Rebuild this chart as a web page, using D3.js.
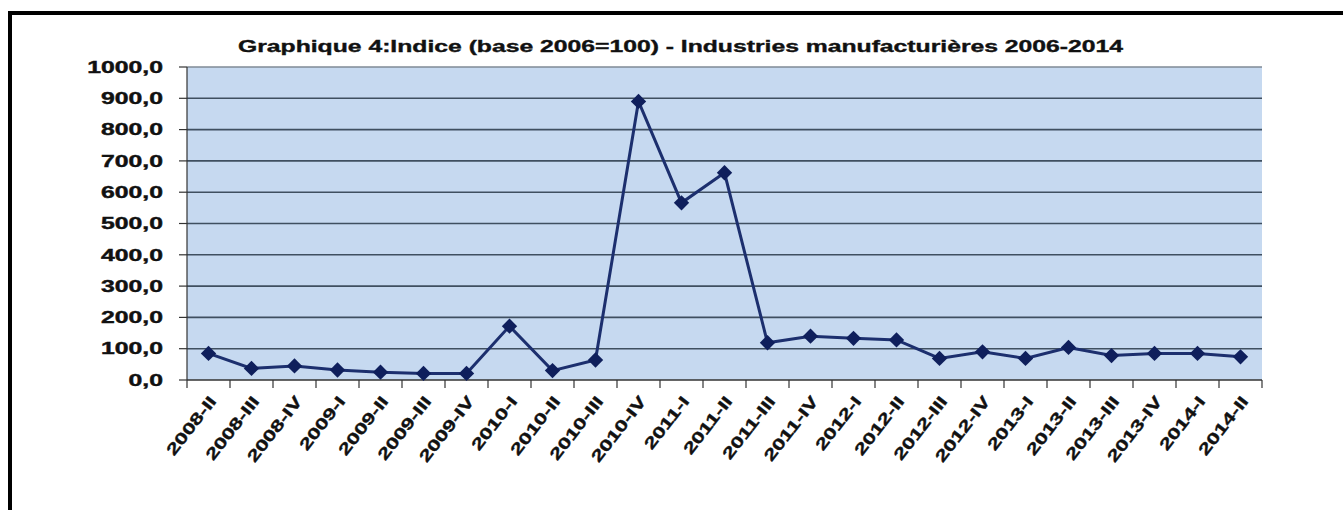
<!DOCTYPE html>
<html><head><meta charset="utf-8">
<script src="https://cdn.jsdelivr.net/npm/d3@7"></script>
<style>body{margin:0;background:#fff}svg{display:block}</style>
</head><body>
<svg id="c" width="1343" height="510"></svg>
<script>
const categories = ["2008-II","2008-III","2008-IV","2009-I","2009-II","2009-III","2009-IV",
"2010-I","2010-II","2010-III","2010-IV","2011-I","2011-II","2011-III","2011-IV",
"2012-I","2012-II","2012-III","2012-IV","2013-I","2013-II","2013-III","2013-IV","2014-I","2014-II"];
const values = [85,37,45,32,25,21,21,172,30,64,890,566,662,119,140,133,128,69,90,69,104,78,85,85,74];
const yTicks = [0,100,200,300,400,500,600,700,800,900,1000];
const title = "Graphique 4:Indice (base 2006=100) - Industries manufacturières 2006-2014";

const svg = d3.select("#c");
const FONT = "'Liberation Sans', Arial, sans-serif";
const L = 187, R = 1262, T = 67, B = 380;

// outer frame
svg.append("path").attr("d", `M10,512 L10,13 L1345,13`).attr("fill","none")
  .attr("stroke","#000").attr("stroke-width",4);

const x = d3.scaleBand().domain(categories).range([L, R]).padding(0);
const y = d3.scaleLinear().domain([0, 1000]).range([B, T]);

svg.append("rect").attr("x", L).attr("y", T).attr("width", R - L).attr("height", B - T)
  .attr("fill", "#c6d9f0");

// gridlines
svg.append("g").selectAll("line").data(yTicks.filter(d => d > 0)).join("line")
  .attr("x1", L).attr("x2", R).attr("y1", d => y(d)).attr("y2", d => y(d))
  .attr("stroke", d => d === 1000 ? "#7f8a96" : "#3f4f60").attr("stroke-width", 1.6);

// y axis
svg.append("line").attr("x1", L).attr("x2", L).attr("y1", T).attr("y2", B)
  .attr("stroke", "#333").attr("stroke-width", 1.2);
svg.append("g").selectAll("line").data(yTicks).join("line")
  .attr("x1", L - 8).attr("x2", L).attr("y1", d => y(d)).attr("y2", d => y(d))
  .attr("stroke", "#333").attr("stroke-width", 1.2);
svg.append("g").selectAll("text").data(yTicks).join("text")
  .attr("transform", d => `translate(163,${y(d)}) scale(1.55,1)`)
  .attr("dy", "0.36em").attr("text-anchor", "end")
  .attr("font-family", FONT).attr("font-weight", "bold").attr("font-size", 16)
  .attr("fill", "#111").attr("stroke", "#111").attr("stroke-width", 0.4)
  .text(d => d3.format(".1f")(d).replace(".", ","));

// x axis
svg.append("line").attr("x1", L).attr("x2", R).attr("y1", B).attr("y2", B)
  .attr("stroke", "#333").attr("stroke-width", 1.6);
const edges = categories.map(c => x(c)).concat([R]);
svg.append("g").selectAll("line").data(edges).join("line")
  .attr("x1", d => d).attr("x2", d => d).attr("y1", B).attr("y2", B + 8)
  .attr("stroke", "#333").attr("stroke-width", 1.2);
svg.append("g").selectAll("text").data(categories).join("text")
  .attr("transform", d => `translate(${x(d) + x.bandwidth() / 2 + 4},398) rotate(-52) scale(1.4,1)`)
  .attr("dy", "0.36em").attr("text-anchor", "end")
  .attr("font-family", FONT).attr("font-weight", "bold").attr("font-size", 16)
  .attr("fill", "#111").attr("stroke", "#111").attr("stroke-width", 0.35).text(d => d);

// line
const cx = d => x(d) + x.bandwidth() / 2;
svg.append("path").datum(values)
  .attr("d", d3.line().x((d, i) => cx(categories[i])).y(d => y(d)))
  .attr("fill", "none").attr("stroke", "#1c2f6e").attr("stroke-width", 3);
svg.append("g").selectAll("path").data(values).join("path")
  .attr("transform", (d, i) => `translate(${cx(categories[i])},${y(d)})`)
  .attr("d", d3.symbol(d3.symbolDiamond2, 150)())
  .attr("fill", "#0f1f5c");

// title
svg.append("text").attr("x", 238).attr("y", 52)
  .attr("textLength", 885).attr("lengthAdjust", "spacingAndGlyphs")
  .attr("font-family", FONT).attr("font-weight", "bold").attr("font-size", 16)
  .attr("fill", "#111").attr("stroke", "#111").attr("stroke-width", 0.35).text(title);
</script>
</body></html>
